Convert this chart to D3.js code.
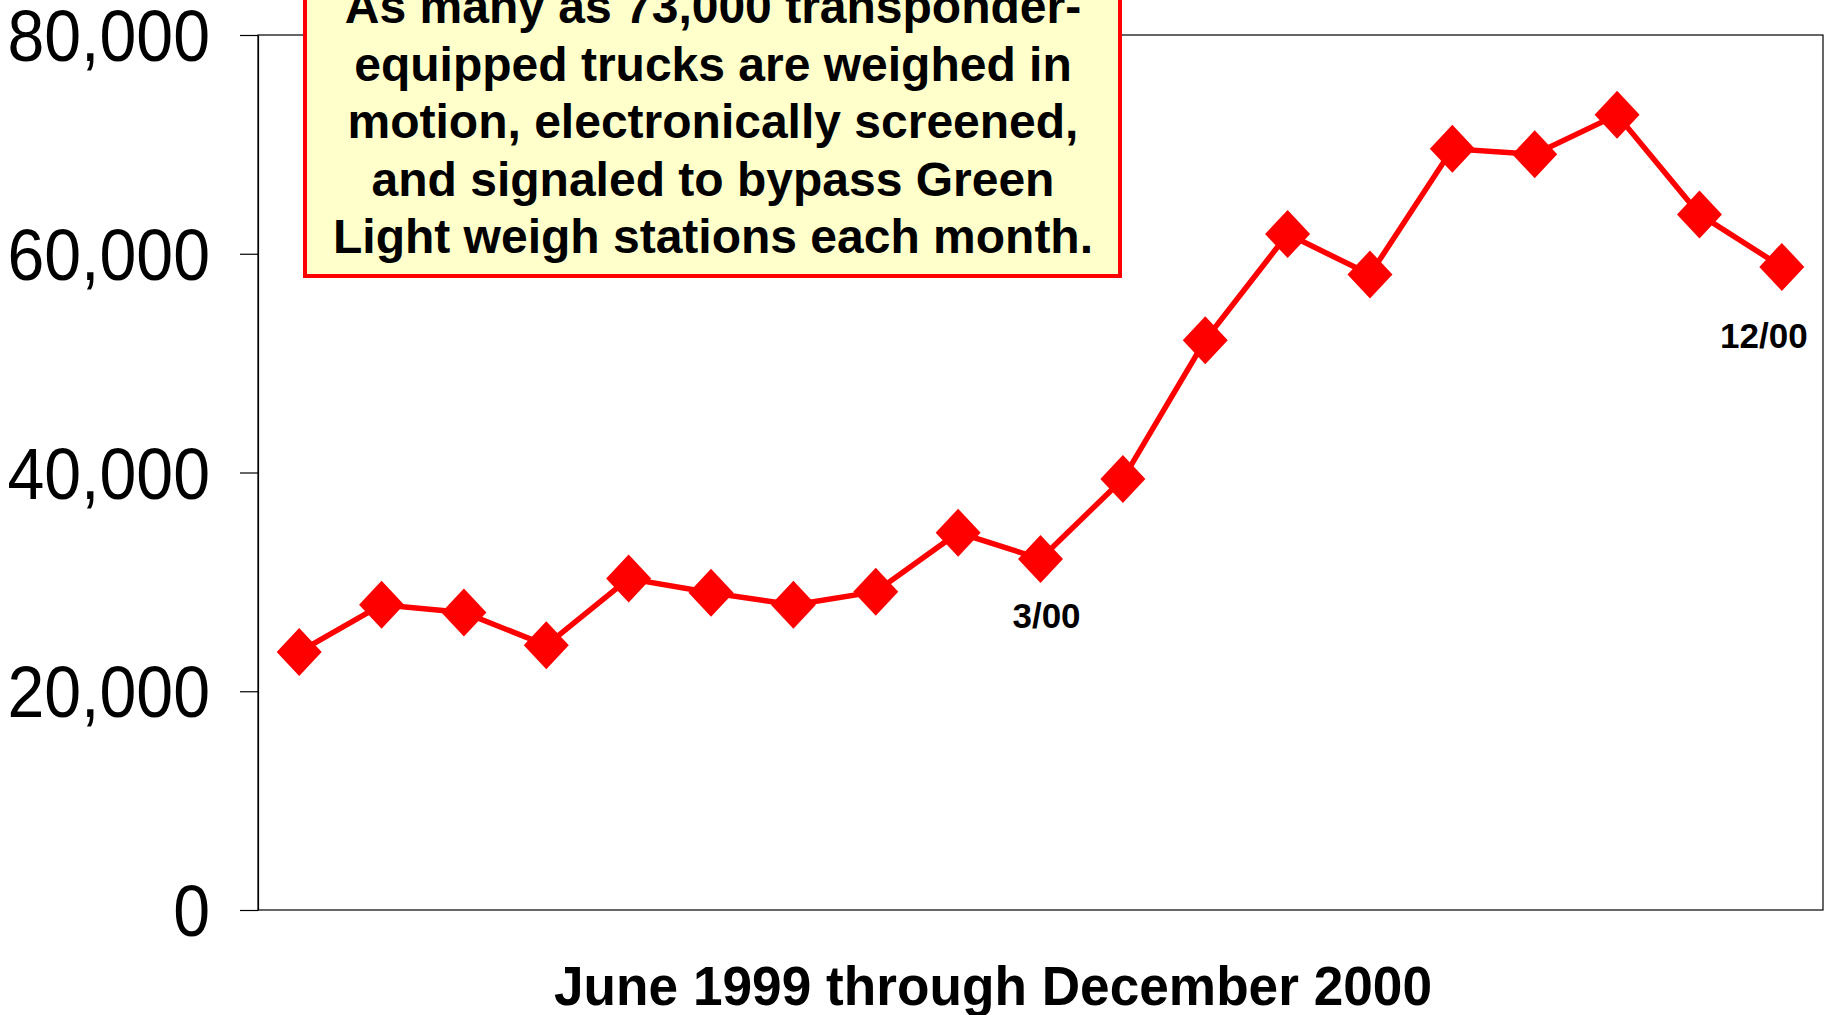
<!DOCTYPE html>
<html>
<head>
<meta charset="utf-8">
<script src="https://cdn.jsdelivr.net/npm/d3@7"></script>
<style>
  html, body { margin: 0; padding: 0; background: #fff; }
  svg { display: block; }
  text { font-family: Arial, "Liberation Sans", sans-serif; }
</style>
</head>
<body>
<svg id="chart" width="1829" height="1015"></svg>
<script>
// ---- data ----
const months = ["6/99","7/99","8/99","9/99","10/99","11/99","12/99","1/00","2/00","3/00",
                "4/00","5/00","6/00","7/00","8/00","9/00","10/00","11/00","12/00"];
const trucks = [23600, 27900, 27200, 24200, 30300, 29000, 27900, 29100, 34500, 32100,
                39400, 52100, 61800, 58100, 69600, 69100, 72700, 63600, 58800];
const yTicks = [0, 20000, 40000, 60000, 80000];
const pointLabels = ["3/00", "12/00"];
const xTitle = "June 1999 through December 2000";
const boxLines = [
  "As many as 73,000 transponder-",
  "equipped trucks are weighed in",
  "motion, electronically screened,",
  "and signaled to bypass Green",
  "Light weigh stations each month."
];

// ---- layout ----
(function () {
const svg = d3.select("#chart");
const pLeft = 258, pRight = 1823, pTop = 35, pBottom = 910;

const x = d3.scalePoint().domain(months).range([pLeft, pRight]).padding(0.5);
const y = d3.scaleLinear().domain([0, 80000]).range([pBottom, pTop]);

// plot frame
svg.append("rect")
  .attr("x", pLeft).attr("y", pTop)
  .attr("width", pRight - pLeft).attr("height", pBottom - pTop)
  .attr("fill", "none").attr("stroke", "#000").attr("stroke-width", 1.2);

// y axis
const yAxis = svg.append("g")
  .attr("transform", `translate(${pLeft},0)`)
  .call(d3.axisLeft(y).tickValues(yTicks).tickSize(18).tickSizeOuter(0).tickFormat(() => ""));
yAxis.select(".domain").attr("stroke", "#000").attr("stroke-width", 1.2);
yAxis.selectAll(".tick line").attr("stroke", "#000").attr("stroke-width", 1.2);

svg.append("g").selectAll("text")
  .data(yTicks)
  .join("text")
  .attr("transform", d => `translate(210,${y(d) + 26}) scale(0.92,1)`)
  .attr("text-anchor", "end")
  .attr("font-size", 72)
  .attr("fill", "#000")
  .text(d => d3.format(",")(d));

// line
const line = d3.line().x((d, i) => x(months[i])).y(d => y(d));
svg.append("path")
  .datum(trucks)
  .attr("d", line)
  .attr("fill", "none")
  .attr("stroke", "#ff0000")
  .attr("stroke-width", 5.5)
  .attr("stroke-linejoin", "miter");

// diamond markers
svg.append("g").selectAll("path")
  .data(trucks)
  .join("path")
  .attr("transform", (d, i) => `translate(${x(months[i])},${y(d)})`)
  .attr("d", "M0,-24L22.5,0L0,24L-22.5,0Z")
  .attr("fill", "#ff0000");

// point labels
const labelOffsets = { "3/00": [6, 69], "12/00": [-18, 81] };
svg.append("g").selectAll("text")
  .data(pointLabels)
  .join("text")
  .attr("x", d => x(d) + labelOffsets[d][0])
  .attr("y", d => y(trucks[months.indexOf(d)]) + labelOffsets[d][1])
  .attr("text-anchor", "middle")
  .attr("font-size", 35)
  .attr("font-weight", "bold")
  .attr("fill", "#000")
  .text(d => d);

// x title
svg.append("text")
  .attr("transform", "translate(993,1005) scale(0.95,1)")
  .attr("text-anchor", "middle")
  .attr("font-size", 56)
  .attr("font-weight", "bold")
  .attr("fill", "#000")
  .text(xTitle);

// annotation box
const box = svg.append("g");
box.append("rect")
  .attr("x", 305).attr("y", -40)
  .attr("width", 815).attr("height", 316)
  .attr("fill", "#ffffcc")
  .attr("stroke", "#ff0000")
  .attr("stroke-width", 4);
box.selectAll("text")
  .data(boxLines)
  .join("text")
  .attr("x", 713)
  .attr("y", (d, i) => 23 + i * 57.5)
  .attr("text-anchor", "middle")
  .attr("font-size", 48)
  .attr("font-weight", "bold")
  .attr("fill", "#000")
  .text(d => d);
})();
</script>
</body>
</html>
